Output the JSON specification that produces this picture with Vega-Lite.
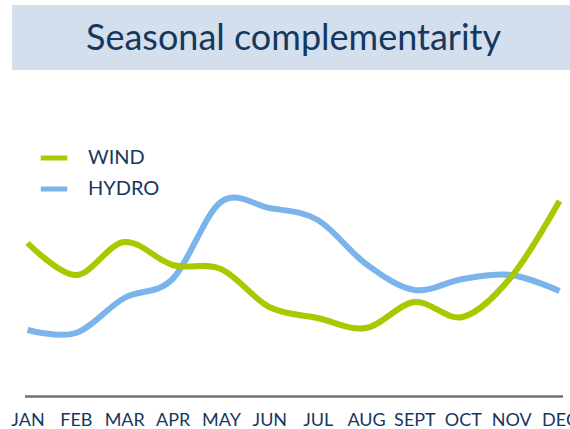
{
  "$schema": "https://vega.github.io/schema/vega-lite/v6.json",
  "padding": {"left": 10, "top": 5, "right": 0, "bottom": 0},
  "background": "white",
  "config": {"view": {"stroke": null}, "font": "Lato"},
  "bounds": "flush",
  "center": true,
  "spacing": 76,
  "vconcat": [
    {
      "width": 563,
      "height": 65,
      "view": {"fill": "#d3dfec", "stroke": null},
      "data": {"values": [{"title": "Seasonal complementarity"}]},
      "mark": {"type": "text", "font": "Lato", "fontSize": 36, "color": "#17375e", "baseline": "alphabetic", "align": "center", "dy": 12},
      "encoding": {"text": {"field": "title", "type": "nominal"}}
    },
    {
      "width": 538,
      "height": 250,
      "data": {
        "values": [
          {"month": "JAN", "source": "Hydro", "value": 26.4},
          {"month": "FEB", "source": "Hydro", "value": 25.2},
          {"month": "MAR", "source": "Hydro", "value": 39.2},
          {"month": "APR", "source": "Hydro", "value": 46.8},
          {"month": "MAY", "source": "Hydro", "value": 77.6},
          {"month": "JUN", "source": "Hydro", "value": 75.2},
          {"month": "JUL", "source": "Hydro", "value": 70.4},
          {"month": "AUG", "source": "Hydro", "value": 52.8},
          {"month": "SEPT", "source": "Hydro", "value": 42.4},
          {"month": "OCT", "source": "Hydro", "value": 46.8},
          {"month": "NOV", "source": "Hydro", "value": 48.4},
          {"month": "DEC", "source": "Hydro", "value": 42.0},
          {"month": "JAN", "source": "Wind", "value": 61.2},
          {"month": "FEB", "source": "Wind", "value": 48.4},
          {"month": "MAR", "source": "Wind", "value": 61.6},
          {"month": "APR", "source": "Wind", "value": 52.4},
          {"month": "MAY", "source": "Wind", "value": 50.8},
          {"month": "JUN", "source": "Wind", "value": 35.6},
          {"month": "JUL", "source": "Wind", "value": 31.2},
          {"month": "AUG", "source": "Wind", "value": 27.2},
          {"month": "SEPT", "source": "Wind", "value": 37.6},
          {"month": "OCT", "source": "Wind", "value": 31.6},
          {"month": "NOV", "source": "Wind", "value": 47.6},
          {"month": "DEC", "source": "Wind", "value": 78.0}
        ]
      },
      "mark": {"type": "line", "interpolate": "cardinal", "strokeWidth": 6, "strokeCap": "butt"},
      "encoding": {
        "x": {
          "field": "month", "type": "ordinal", "sort": null,
          "scale": {"type": "point", "padding": 0.062},
          "axis": {
            "title": null, "ticks": false, "tickSize": 0, "grid": false,
            "domainColor": "#707070", "domainWidth": 2.5,
            "labelAngle": 0, "labelFont": "Lato", "labelFontSize": 18, "labelColor": "#17375e",
            "labelPadding": 15, "labelOverlap": false, "labelFlush": false, "labelBound": false
          }
        },
        "y": {"field": "value", "type": "quantitative", "scale": {"domain": [0, 100]}, "axis": null},
        "color": {
          "field": "source", "type": "nominal",
          "scale": {"domain": ["Wind", "Hydro"], "range": ["#a8c800", "#7ab4ea"]},
          "legend": {
            "orient": "none", "legendX": 26, "legendY": 137, "title": null, "padding": 0,
            "symbolType": "stroke", "symbolSize": 700, "symbolStrokeWidth": 5,
            "labelFont": "Lato", "labelFontSize": 20, "labelColor": "#17375e",
            "labelExpr": "upper(datum.label)", "rowPadding": 5, "labelOffset": 18
          }
        }
      }
    }
  ]
}
